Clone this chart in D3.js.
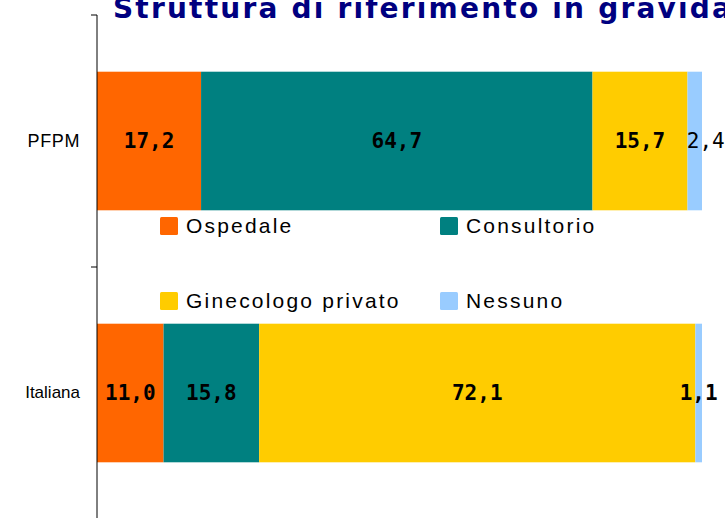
<!DOCTYPE html>
<html>
<head>
<meta charset="utf-8">
<script src="https://cdn.jsdelivr.net/npm/d3@7"></script>
<style>
  body { margin: 0; background: #fff; }
</style>
</head>
<body>
<div id="chart"></div>
<script>
var categories = ['PFPM', 'Italiana'];
var series = ['Ospedale', 'Consultorio', 'Ginecologo privato', 'Nessuno'];
var colors = ['#FF6600', '#008080', '#FFCC00', '#99CCFF'];
var ospedale = [17.2, 11.0];
var consultorio = [64.7, 15.8];
var ginecologo = [15.7, 72.1];
var nessuno = [2.4, 1.1];
var title = 'Struttura di riferimento in gravidanza';

var chart_width = 725;
var chart_height = 518;

var rows = categories.map(function(c, i){
  return { cat: c, Ospedale: ospedale[i], Consultorio: consultorio[i],
           'Ginecologo privato': ginecologo[i], Nessuno: nessuno[i] };
});
var stacked = d3.stack().keys(series)(rows);

var svg = d3.select('#chart')
  .append('svg')
  .attr('width', chart_width)
  .attr('height', chart_height);

var x_scale = d3.scaleLinear().domain([0, 100]).range([97, 702]);
var y_scale = d3.scaleBand().domain(categories).range([15, 519]).paddingInner(0.45).paddingOuter(0.225);

// bars
var layers = svg.selectAll('g.layer')
  .data(stacked)
  .enter()
  .append('g')
  .attr('class', 'layer')
  .attr('fill', function(d, i){ return colors[i]; });

layers.selectAll('rect')
  .data(function(d){ return d; })
  .enter()
  .append('rect')
  .attr('x', function(d){ return x_scale(d[0]); })
  .attr('y', function(d){ return y_scale(d.data.cat); })
  .attr('width', function(d){ return x_scale(d[1]) - x_scale(d[0]); })
  .attr('height', y_scale.bandwidth());

// value labels
var fmt = function(v){ return v.toFixed(1).replace('.', ','); };
layers.each(function(s, si){
  d3.select(this).selectAll('text')
    .data(s)
    .enter()
    .append('text')
    .text(function(d){ return fmt(d[1] - d[0]); })
    .attr('x', function(d, i){
      var cx = (x_scale(d[0]) + x_scale(d[1])) / 2;
      return (si == 3 && i == 0) ? cx + 11 : cx;
    })
    .attr('y', function(d){ return y_scale(d.data.cat) + y_scale.bandwidth() / 2 + 7; })
    .attr('text-anchor', 'middle')
    .attr('fill', '#000')
    .style('font-family', '"DejaVu Sans Mono", monospace')
    .style('font-size', '21px')
    .style('font-weight', function(d, i){ return (si == 3 && i == 0) ? 'normal' : 'bold'; });
});

// y axis
var y_axis = d3.axisLeft(y_scale).tickSize(0).tickPadding(17);
var gy = svg.append('g')
  .attr('transform', 'translate(97,0)')
  .call(y_axis);
gy.select('.domain').remove();
gy.selectAll('text')
  .style('font-family', '"Liberation Sans", Arial, sans-serif')
  .style('font-size', '17px')
  .attr('fill', '#000');
gy.selectAll('text')
  .filter(function(d){ return d == 'PFPM'; })
  .style('font-size', '18px')
  .style('letter-spacing', '0.6px');

svg.append('line')
  .attr('x1', 97).attr('x2', 97)
  .attr('y1', 15).attr('y2', 519)
  .attr('stroke', '#000').attr('stroke-width', 1);

var boundaries = [15, 267];
svg.selectAll('line.tick')
  .data(boundaries)
  .enter()
  .append('line')
  .attr('class', 'tick')
  .attr('x1', 91).attr('x2', 97)
  .attr('y1', function(d){ return d; })
  .attr('y2', function(d){ return d; })
  .attr('stroke', '#000');

// legend
var legend_pos = [[160, 217], [440, 217], [160, 292], [440, 292]];
var legend = svg.selectAll('g.legend')
  .data(series)
  .enter()
  .append('g')
  .attr('class', 'legend')
  .attr('transform', function(d, i){ return 'translate(' + legend_pos[i][0] + ',' + legend_pos[i][1] + ')'; });

legend.append('rect')
  .attr('width', 18).attr('height', 18)
  .attr('rx', 1.5)
  .attr('fill', function(d, i){ return colors[i]; });

legend.append('text')
  .text(function(d){ return d; })
  .attr('x', 26)
  .attr('y', 16)
  .style('font-family', '"Liberation Sans", Arial, sans-serif')
  .style('font-size', '21px')
  .style('letter-spacing', '2.2px')
  .attr('fill', '#000');

// title (cut off at the top and right, as in the original slide)
svg.append('text')
  .text(title)
  .attr('x', 113)
  .attr('y', 18)
  .attr('fill', '#000080')
  .style('font-family', '"DejaVu Sans", sans-serif')
  .style('font-size', '28px')
  .style('letter-spacing', '2.2px')
  .style('font-weight', 'bold');
</script>
</body>
</html>
